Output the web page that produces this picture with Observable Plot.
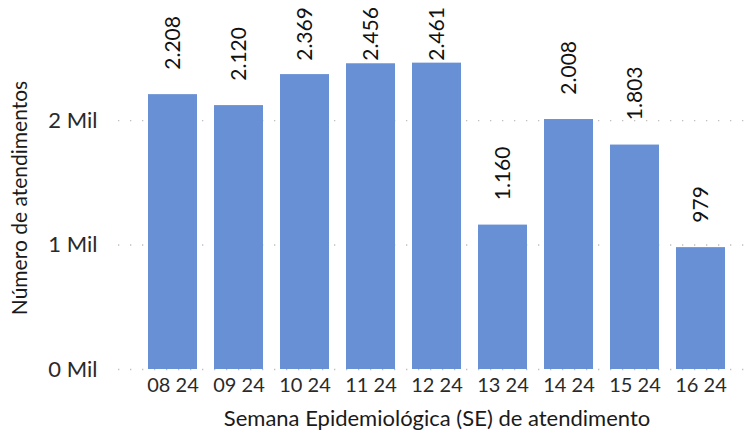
<!DOCTYPE html>
<html>
<head>
<meta charset="utf-8">
<script src="https://cdn.jsdelivr.net/npm/d3@7"></script>
<script src="https://cdn.jsdelivr.net/npm/@observablehq/plot@0.6"></script>
<style>
  html, body { margin: 0; padding: 0; background: #fff; }
  svg { display: block; }
</style>
</head>
<body>
<div id="chart"></div>
<script>
const semanas = ["08 24", "09 24", "10 24", "11 24", "12 24", "13 24", "14 24", "15 24", "16 24"];
const atendimentos = [2208, 2120, 2369, 2456, 2461, 1160, 2008, 1803, 979];
const yTicks = [0, 1000, 2000];
const xTitle = "Semana Epidemiológica (SE) de atendimento";
const yTitle = "Número de atendimentos";

const data = semanas.map((s, i) => ({semana: s, valor: atendimentos[i]}));
const fmt = v => d3.format(",")(v).replace(/,/g, ".");
const labelOffset = 200;
const labelMax = 2480;

const chart = Plot.plot({
  width: 753,
  height: 431,
  marginLeft: 128,
  marginRight: 8,
  marginTop: 8,
  marginBottom: 62,
  style: {fontFamily: "Lato, 'Open Sans', sans-serif", fontSize: "20px", color: "#2a2a2a", background: "#fff"},
  x: {domain: semanas, padding: 0.264, label: null},
  y: {domain: [0, 2900], label: null},
  marks: [
    Plot.ruleY(yTicks, {stroke: "#bfbfbf", strokeWidth: 1.3, strokeDasharray: "1.3,10.7", insetLeft: -10, insetRight: 0}),
    Plot.barY(data, {x: "semana", y: "valor", fill: "#6890d4"}),
    Plot.text(data, {
      x: "semana",
      y: d => Math.min(d.valor + labelOffset, labelMax),
      text: d => fmt(d.valor),
      rotate: -90,
      textAnchor: "start",
      fill: "#111",
      fontSize: 21
    }),
    Plot.axisY({ticks: yTicks, tickFormat: d => `${d / 1000} Mil`, tickSize: 0, tickPadding: 31, fontSize: 22, label: null}),
    Plot.axisX({tickSize: 0, tickPadding: 8, fontSize: 20, label: null}),
    Plot.text([xTitle], {frameAnchor: "bottom", dy: 49, lineAnchor: "middle", fontSize: 22, fill: "#1a1a1a"}),
    Plot.text([yTitle], {frameAnchor: "left", dx: -108, dy: 9, rotate: -90, textAnchor: "middle", lineAnchor: "middle", fontSize: 21, fill: "#1a1a1a"})
  ]
});
document.getElementById("chart").append(chart);
</script>
</body>
</html>
